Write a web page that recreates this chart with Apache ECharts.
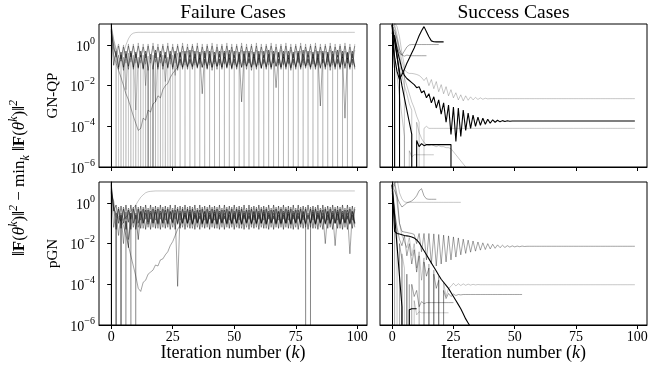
<!DOCTYPE html>
<html>
<head>
<meta charset="utf-8">
<script src="https://cdn.jsdelivr.net/npm/echarts@6/dist/echarts.min.js"></script>
<style>
  html, body { margin: 0; background: #fff; }
  #chart { width: 672px; height: 371px; }
</style>
</head>
<body>
<div id="chart"></div>
<script>
// all values are log10 of ||F||^2 - min ||F||^2, one per iteration k = 0, 1, 2 ...
// OFF = the difference hit zero: drawn as a vertical drop out of the axes
const OFF = -300;

// ---- failure cases, GN-QP ----
const failGnqpRise = [
  1.0, 0.3, -0.2, -0.6, -0.8, -0.4, 0.0, 0.3, 0.5, 0.58,
  0.61, 0.62, 0.62, 0.62, 0.62, 0.62, 0.62, 0.62, 0.62, 0.62,
  0.62, 0.62, 0.62, 0.62, 0.62, 0.62, 0.62, 0.62, 0.62, 0.62,
  0.62, 0.62, 0.62, 0.62, 0.62, 0.62, 0.62, 0.62, 0.62, 0.62,
  0.62, 0.62, 0.62, 0.62, 0.62, 0.62, 0.62, 0.62, 0.62, 0.62,
  0.62, 0.62, 0.62, 0.62, 0.62, 0.62, 0.62, 0.62, 0.62, 0.62,
  0.62, 0.62, 0.62, 0.62, 0.62, 0.62, 0.62, 0.62, 0.62, 0.62,
  0.62, 0.62, 0.62, 0.62, 0.62, 0.62, 0.62, 0.62, 0.62, 0.62,
  0.62, 0.62, 0.62, 0.62, 0.62, 0.62, 0.62, 0.62, 0.62, 0.62,
  0.62, 0.62, 0.62, 0.62, 0.62, 0.62, 0.62, 0.62, 0.62, 0.62
];
const failGnqpDip = [
  1.0, -0.5, -0.9, -1.25, -1.6, -2.0, -2.4, -2.7, -3.1, -3.5,
  -3.85, -4.2, -4.1, -3.6, -3.7, -3.2, -3.3, -2.9, -2.8, -2.5,
  -2.6, -2.2, -2.0, -1.9, -1.6, -1.4, -1.25, -1.1, -0.7, -1.1,
  -0.65, -1.05, -0.7, -1.1, -0.6, -1.05, -0.65, -1.1, -0.7, -1.05,
  -0.6, -1.1, -0.65, -1.05, -0.7, -1.1, -0.6, -1.05, -0.65, -1.1,
  -0.7, -1.05, -0.6, -1.1, -0.65, -1.05, -0.7, -1.1, -0.6, -1.05,
  -0.65, -1.1, -0.7, -1.05, -0.6, -1.1, -0.65, -1.05, -0.7, -1.1,
  -0.6, -1.05, -0.65, -1.1, -0.7, -1.05, -0.6, -1.1, -0.65, -1.05,
  -0.7, -1.1, -0.6, -1.05, -0.65, -1.1, -0.7, -1.05, -0.6, -1.1,
  -0.65, -1.05, -0.7, -1.1, -0.6, -1.05, -0.65, -1.1, -0.7, -1.05
];
const failGnqpOscA = [
  0.9, 0.2, -0.3, 0.05, -0.8, 0.0, -0.9, 0.05, -0.85, 0.05,
  -0.9, 0.1, -0.9, 0.05, -0.95, 0.05, -0.9, 0.1, -0.85, 0.05,
  -0.9, 0.05, -0.9, 0.1, -0.95, 0.05, -0.9, 0.05, -0.9, 0.1,
  -0.85, 0.05, -0.9, 0.05, -0.9, 0.1, -0.95, 0.05, -0.9, 0.05,
  -0.9, 0.1, -0.85, 0.05, -0.9, 0.05, -0.95, 0.1, -0.9, 0.05,
  -0.9, 0.05, -0.85, 0.1, -0.9, 0.05, -0.9, 0.05, -0.95, 0.1,
  -0.9, 0.05, -0.9, 0.05, -0.85, 0.1, -0.9, 0.05, -0.9, 0.05,
  -0.95, 0.1, -0.9, 0.05, -0.9, 0.05, -0.85, 0.1, -0.9, 0.05,
  -0.9, 0.05, -0.95, 0.1, -0.9, 0.05, -0.9, 0.05, -0.85, 0.1,
  -0.9, 0.05, -0.9, 0.05, -0.95, 0.1, -0.9, 0.05, -0.9, 0.05
];
const failGnqpOscB = [
  0.8, -1.0, -0.3, -1.1, -0.35, -1.1, -0.3, -1.05, -0.3, -1.1,
  -0.35, -1.1, -0.3, -1.15, -0.3, -1.1, OFF, -1.1, -0.25, -1.1,
  -0.3, -1.05, -0.35, -1.1, -0.3, -1.1, -0.3, -1.15, -0.35, -1.1,
  -0.3, -1.1, -0.25, -1.05, -0.3, -1.1, -0.35, -1.1, -0.3, -1.15,
  -0.3, -1.1, -0.35, -1.05, -0.3, -1.1, -0.3, -1.1, -0.25, -1.15,
  -0.3, -1.1, -0.35, -1.1, -0.3, -1.05, -0.3, -1.1, -0.35, -1.1,
  -0.3, -1.15, -0.3, -1.1, -0.25, -1.1, -0.3, -1.05, -0.35, -1.1,
  -0.3, -1.1, -0.3, -1.15, -0.35, -1.1, -0.3, -1.1, -0.25, -1.05,
  -0.3, -1.1, -0.35, -1.1, -0.3, -1.15, -0.3, -1.1, -0.35, -1.05,
  -0.3, -1.1, -0.25, -1.1, -0.3, -1.15, -0.35, -1.1, -0.3, -1.1
];
const failGnqpOscC = [
  0.6, 0.0, -0.6, -0.05, -0.7, -0.1, -0.65, -0.05, -0.6, -0.05,
  -0.65, -0.05, -0.6, -0.1, -0.65, -0.05, -0.7, -0.05, -0.65, -0.1,
  -0.6, -0.05, -0.65, -0.05, -0.7, -0.1, -0.65, -0.05, -0.6, -0.05,
  -0.65, -0.1, -0.6, -0.05, -0.65, -0.05, -0.7, -0.1, -0.65, -0.05,
  -0.6, -0.05, -0.65, -0.1, -0.6, -0.05, -0.65, -0.05, -0.7, -0.1,
  -0.65, -0.05, -0.6, -0.05, -0.65, -0.1, -0.6, -0.05, -0.65, -0.05,
  -0.7, -0.1, -0.65, -0.05, -0.6, -0.05, -0.65, -0.1, -0.6, -0.05,
  -0.65, -0.05, -0.7, -0.1, -0.65, -0.05, -0.6, -0.05, -0.65, -0.1,
  -0.6, -0.05, -0.65, -0.05, -0.7, -0.1, -0.65, -0.05, -0.6, -0.05,
  -0.65, -0.1, -0.6, -0.05, -0.65, -0.05, -0.7, -0.1, -0.65, -0.05
];
const failGnqpOscD = [
  0.7, -0.2, -0.45, -1.2, -0.5, -1.25, -0.45, -1.2, -0.4, -1.2,
  -0.45, -1.15, -0.5, -1.2, -0.45, -1.25, -0.45, -1.2, -0.4, -1.2,
  -0.45, -1.2, -0.5, -1.15, -0.45, -1.2, -0.45, -1.25, -0.4, -1.2,
  -0.45, -1.2, -0.5, -1.2, -0.45, -1.15, -0.45, -2.4, -0.4, -1.2,
  -0.45, -1.25, -0.5, -1.2, -0.45, -1.2, -0.4, -1.15, -0.45, -1.2,
  -0.5, -1.2, -0.45, -2.8, -0.45, -1.2, -0.4, -1.25, -0.45, -1.2,
  -0.45, -1.15, -0.5, -1.2, -0.45, -1.2, -0.45, -2.1, -0.4, -1.2,
  -0.45, -1.2, -0.5, -1.25, -0.45, -1.2, -0.4, -1.2, -0.45, -1.15,
  -0.5, -1.2, -0.45, -1.2, -0.45, -3.0, -0.4, -1.2, -0.45, -1.25,
  -0.45, -1.2, -0.5, -1.2, -0.45, -3.6, -0.4, -1.2, -0.45, -1.2
];
const failGnqpDropA = [
  0.9, 0.0, -0.7, OFF, -0.75, OFF, -0.7, OFF, -0.65, OFF,
  -0.7, OFF, -0.75, OFF, -0.7, OFF, -0.65, OFF, -0.7, OFF,
  -0.7, OFF, -0.75, OFF, -0.7, OFF, -0.65, OFF, -0.7, OFF,
  -0.7, OFF, -0.75, OFF, -0.7, OFF, -0.65, OFF, -0.7, OFF,
  -0.7, OFF, -0.75, OFF, -0.7, OFF, -0.65, OFF, -0.7, OFF,
  -0.7, OFF, -0.75, OFF, -0.7, OFF, -0.65, OFF, -0.7, OFF,
  -0.7, OFF, -0.75, OFF, -0.7, OFF, -0.65, OFF, -0.7, OFF,
  -0.7, OFF, -0.75, OFF, -0.7, OFF, -0.65, OFF, -0.7, OFF,
  -0.7, OFF, -0.75, OFF, -0.7, OFF, -0.65, OFF, -0.7, OFF,
  -0.7, OFF, -0.75, OFF, -0.7, OFF, -0.65, OFF, -0.7, OFF
];
const failGnqpDropB = [
  1.0, OFF, -0.9, -0.5, OFF, -0.6, -2.2, -0.4, OFF, -0.5,
  -3.2, -0.6, OFF, -0.5, -2.0, -0.55, OFF, -0.5, -2.8, -0.6,
  OFF, -0.5, -1.8, -0.6, OFF, -0.5, -1.5, -0.4, -1.0, -0.3,
  -1.0, -0.3, -0.95, -0.25, -1.0, -0.3, -0.9, -0.3, -1.0, -0.25,
  -1.0, -0.3, -0.95, -0.25, -1.0, -0.3, -0.9, -0.3, -1.0, -0.25,
  -1.0, -0.3, -0.95, -0.25, -1.0, -0.3, -0.9, -0.3, -1.0, -0.25,
  -1.0, -0.3, -0.95, -0.25, -1.0, -0.3, -0.9, -0.3, -1.0, -0.25,
  -1.0, -0.3, -0.95, -0.25, -1.0, -0.3, -0.9, -0.3, -1.0, -0.25,
  -1.0, -0.3, -0.95, -0.25, -1.0, -0.3, -0.9, -0.3, -1.0, -0.25,
  -1.0, -0.3, -0.95, -0.25, -1.0, -0.3, -0.9, -0.3, -1.0, -0.25
];

// ---- failure cases, pGN ----
const failPgnRise = [
  0.8, -0.3, -0.6, -0.8, -0.9, -0.8, -0.7, -0.55, -0.4, -0.25,
  -0.1, 0.1, 0.28, 0.4, 0.5, 0.55, 0.57, 0.58, 0.59, 0.59,
  0.59, 0.59, 0.59, 0.59, 0.59, 0.59, 0.59, 0.59, 0.59, 0.59,
  0.59, 0.59, 0.59, 0.59, 0.59, 0.59, 0.59, 0.59, 0.59, 0.59,
  0.59, 0.59, 0.59, 0.59, 0.59, 0.59, 0.59, 0.59, 0.59, 0.59,
  0.59, 0.59, 0.59, 0.59, 0.59, 0.59, 0.59, 0.59, 0.59, 0.59,
  0.59, 0.59, 0.59, 0.59, 0.59, 0.59, 0.59, 0.59, 0.59, 0.59,
  0.59, 0.59, 0.59, 0.59, 0.59, 0.59, 0.59, 0.59, 0.59, 0.59,
  0.59, 0.59, 0.59, 0.59, 0.59, 0.59, 0.59, 0.59, 0.59, 0.59,
  0.59, 0.59, 0.59, 0.59, 0.59, 0.59, 0.59, 0.59, 0.59, 0.59
];
const failPgnDip = [
  1.0, -0.3, -0.5, -0.7, -0.9, -1.1, -1.6, -2.1, -2.6, -3.1,
  -3.6, -4.2, -4.35, -3.9, -3.8, -3.5, -3.4, -3.3, -3.05, -3.1,
  -2.8, -2.75, -2.55, -2.4, -2.1, -1.9, -1.6, -1.3, -1.1, -0.8,
  -0.6, -1.0, -0.55, -1.05, -0.6, -1.0, -0.65, -1.0, -0.6, -1.05,
  -0.6, -1.0, -0.55, -1.05, -0.6, -1.0, -0.65, -1.0, -0.6, -1.05,
  -0.6, -1.0, -0.55, -1.05, -0.6, -1.0, -0.65, -1.0, -0.6, -1.05,
  -0.6, -1.0, -0.55, -1.05, -0.6, -1.0, -0.65, -1.0, -0.6, -1.05,
  -0.6, -1.0, -0.55, -1.05, -0.6, -1.0, -0.65, -1.0, -0.6, -1.05,
  -0.6, -1.0, -0.55, -1.05, -0.6, -1.0, -0.65, -1.0, -0.6, -1.05,
  -0.6, -1.0, -0.55, -1.05, -0.6, -1.0, -0.65, -1.0, -0.6, -1.05
];
const failPgnOscA = [
  0.9, -0.4, -0.1, -1.0, -0.15, -1.0, -0.1, -0.95, -0.1, -1.0,
  -0.1, -1.0, -0.15, -1.0, -0.1, -0.95, -0.1, -1.0, -0.15, -1.0,
  -0.1, -1.0, -0.15, -1.0, -0.1, -0.95, -0.1, -1.0, -0.15, -1.0,
  -0.1, -1.0, -0.15, -1.0, -0.1, -0.95, -0.1, -1.0, -0.15, -1.0,
  -0.1, -1.0, -0.15, -1.0, -0.1, -0.95, -0.1, -1.0, -0.15, -1.0,
  -0.1, -1.0, -0.15, -1.0, -0.1, -0.95, -0.1, -1.0, -0.15, -1.0,
  -0.1, -1.0, -0.15, -1.0, -0.1, -0.95, -0.1, -1.0, -0.15, -1.0,
  -0.1, -1.0, -0.15, -1.0, -0.1, -0.95, -0.1, -1.0, -0.15, -1.0,
  -0.1, -1.0, -0.15, -1.0, -0.1, -0.95, -0.1, -1.0, -0.15, -1.0,
  -0.1, -1.0, -0.15, -1.0, -0.1, -0.95, -0.1, -1.0, -0.15, -1.0
];
const failPgnOscB = [
  0.7, -0.2, -1.3, -0.3, -1.25, -0.3, -1.3, -0.35, -1.3, -0.3,
  -1.3, -0.3, -1.25, -0.3, -1.3, -0.35, -1.3, -0.3, -1.25, -0.3,
  -1.3, -0.3, -1.25, -0.3, -1.3, -0.35, -1.3, -0.3, -1.25, -0.3,
  -1.3, -0.3, -1.25, -0.3, -1.3, -0.35, -1.3, -0.3, -1.25, -0.3,
  -1.3, -0.3, -1.25, -0.3, -1.3, -0.35, -1.3, -0.3, -1.25, -0.3,
  -1.3, -0.3, -1.25, -0.3, -1.3, -0.35, -1.3, -0.3, -1.25, -0.3,
  -1.3, -0.3, -1.25, -0.3, -1.3, -0.35, -1.3, -0.3, -1.25, -0.3,
  -1.3, -0.3, -1.25, -0.3, -1.3, -0.35, -1.3, -0.3, -1.25, -0.3,
  -1.3, -0.3, -1.25, -0.3, -1.3, -0.35, -1.3, -0.3, -1.25, -0.3,
  -1.3, -0.3, -1.25, -0.3, -1.3, -0.35, -1.3, -0.3, -1.25, -0.3
];
const failPgnOscC = [
  0.6, -1.2, -0.5, -1.6, -0.5, -2.0, -0.45, -1.8, -0.5, -1.2,
  -0.5, -1.2, -0.45, -1.25, -0.5, -1.2, -0.5, -1.2, -0.45, -1.25,
  -0.5, -1.2, -0.5, -1.2, -0.45, -1.2, -0.5, -4.1, -0.5, -1.2,
  -0.5, -1.2, -0.45, -1.25, -0.5, -1.2, -0.5, -1.2, -0.45, -1.2,
  -0.5, -1.2, -0.45, -1.25, -0.5, -1.2, -0.5, -1.2, -0.45, -1.2,
  -0.5, -1.2, -0.45, -1.25, -0.5, -1.2, -0.5, -1.2, -0.45, -1.2,
  -0.5, -1.2, -0.45, -1.25, -0.5, -1.2, -0.5, -1.2, -0.45, -1.2,
  -0.5, -1.2, -0.45, -1.25, -0.5, -1.2, -0.5, -1.2, -0.45, -1.2,
  -0.5, -1.2, -0.45, -1.25, -0.5, -1.2, -0.5, -2.0, -0.45, -1.2,
  -0.5, -2.1, -0.45, -1.25, -0.5, -1.2, -0.5, -2.5, -0.45, -1.2
];
const failPgnOscD = [
  0.5, 0.1, -0.8, -0.2, -0.85, -0.2, -0.8, -0.25, -0.8, -0.2,
  -0.8, -0.2, -0.85, -0.2, -0.8, -0.25, -0.8, -0.2, -0.85, -0.2,
  -0.8, -0.2, -0.85, -0.2, -0.8, -0.25, -0.8, -0.2, -0.85, -0.2,
  -0.8, -0.2, -0.85, -0.2, -0.8, -0.25, -0.8, -0.2, -0.85, -0.2,
  -0.8, -0.2, -0.85, -0.2, -0.8, -0.25, -0.8, -0.2, -0.85, -0.2,
  -0.8, -0.2, -0.85, -0.2, -0.8, -0.25, -0.8, -0.2, -0.85, -0.2,
  -0.8, -0.2, -0.85, -0.2, -0.8, -0.25, -0.8, -0.2, -0.85, -0.2,
  -0.8, -0.2, -0.85, -0.2, -0.8, -0.25, -0.8, -0.2, -0.85, -0.2,
  -0.8, -0.2, -0.85, -0.2, -0.8, -0.25, -0.8, -0.2, -0.85, -0.2,
  -0.8, -0.2, -0.85, -0.2, -0.8, -0.25, -0.8, -0.2, -0.85, -0.2
];
const failPgnDrop = [
  1.0, OFF, -0.8, OFF, -0.6, OFF, -0.9, -2.2, -0.5, OFF,
  -0.6, -1.8, -0.4, -1.0, -0.35, -1.05, -0.4, -1.0, -0.35, -1.05,
  -0.4, -1.0, -0.35, -1.05, -0.4, -1.0, -0.35, -1.05, -0.4, -1.0,
  -0.4, -1.0, -0.35, -1.05, -0.4, -1.0, -0.35, -1.05, -0.4, -1.0,
  -0.4, -1.0, -0.35, -1.05, -0.4, -1.0, -0.35, -1.05, -0.4, -1.0,
  -0.4, -1.0, -0.35, -1.05, -0.4, -1.0, -0.35, -1.05, -0.4, -1.0,
  -0.4, -1.0, -0.35, -1.05, -0.4, -1.0, -0.35, -1.05, -0.4, -1.0,
  -0.4, -1.0, -0.35, -1.05, -0.4, -1.0, -0.35, -1.05, -0.4, -1.0,
  OFF, -1.0, -0.35, -1.05, -0.4, -1.0, -0.35, -1.05, -0.4, -1.0,
  -0.4, -1.0, -0.35, -1.05, -0.4, -1.0, -0.35, -1.05, -0.4, -1.0
];

// ---- success cases, GN-QP ----
const succGnqpRise = [
  1.0, -0.6, -1.3, -1.7, -1.45, -1.2, -0.9, -0.65, -0.4, -0.15,
  0.15, 0.45, 0.7, 0.9, 0.65, 0.4, 0.2, 0.16, 0.15, 0.15,
  0.15, 0.15
];
const succGnqpZig = [
  0.5, 0.45, -0.2, -0.7, -1.2, -1.5, -1.65, -1.75, -1.85, -1.95,
  -2.1, -2.05, -2.35, -2.25, -2.6, -2.4, -2.85, -2.55, -3.1, -2.7,
  -3.4, -2.85, -3.8, -2.95, -4.4, -3.05, -4.75, -3.1, -4.5, -3.2,
  -4.2, -3.35, -4.1, -3.45, -4.0, -3.55, -3.95, -3.6, -3.9, -3.65,
  -3.85, -3.68, -3.8, -3.7, -3.78, -3.72, -3.76, -3.73, -3.75, -3.74,
  -3.74, -3.74, -3.74, -3.74, -3.74, -3.74, -3.74, -3.74, -3.74, -3.74,
  -3.74, -3.74, -3.74, -3.74, -3.74, -3.74, -3.74, -3.74, -3.74, -3.74,
  -3.74, -3.74, -3.74, -3.74, -3.74, -3.74, -3.74, -3.74, -3.74, -3.74,
  -3.74, -3.74, -3.74, -3.74, -3.74, -3.74, -3.74, -3.74, -3.74, -3.74,
  -3.74, -3.74, -3.74, -3.74, -3.74, -3.74, -3.74, -3.74, -3.74, -3.74
];
const succGnqpStep = [
  1.0, 0.2, -0.6, -1.3, -2.0, -2.6, -3.2, -3.8, -4.4, OFF,
  -4.7, -5.0, -4.85, -4.95, -4.9, -4.9, -4.9, -4.9, -4.9, -4.9,
  -4.9, -4.9, -4.9, -4.9, -4.9, OFF
];
const succGnqpFallA = [1.0, -1.2, OFF];
const succGnqpFallB = [0.6, 0.3, -0.5, -1.5, OFF];
const succGnqpSlow = [
  0.9, 1.0, 0.5, -0.2, -0.8, -1.2, -1.35, -1.4, -1.4, -1.42,
  -1.45, -1.5, -1.6, -1.75, -1.6, -2.0, -1.7, -2.15, -1.8, -2.3,
  -1.95, -2.4, -2.05, -2.5, -2.2, -2.6, -2.35, -2.7, -2.45, -2.75,
  -2.5, -2.72, -2.55, -2.7, -2.58, -2.68, -2.6, -2.67, -2.62, -2.65,
  -2.64, -2.64, -2.64, -2.64, -2.64, -2.64, -2.64, -2.64, -2.64, -2.64,
  -2.64, -2.64, -2.64, -2.64, -2.64, -2.64, -2.64, -2.64, -2.64, -2.64,
  -2.64, -2.64, -2.64, -2.64, -2.64, -2.64, -2.64, -2.64, -2.64, -2.64,
  -2.64, -2.64, -2.64, -2.64, -2.64, -2.64, -2.64, -2.64, -2.64, -2.64,
  -2.64, -2.64, -2.64, -2.64, -2.64, -2.64, -2.64, -2.64, -2.64, -2.64,
  -2.64, -2.64, -2.64, -2.64, -2.64, -2.64, -2.64, -2.64, -2.64, -2.64
];
const succGnqpLow = [
  0.8, 0.9, 0.2, -0.5, -1.1, -1.6, -2.0, -2.4, -2.8, -3.1,
  -3.5, -3.8, OFF, -4.1, -4.0, -4.1, -4.1, -4.1, -4.1, -4.1,
  -4.1, -4.1, -4.1, -4.1, -4.1, -4.1, -4.1, -4.1, -4.1, -4.1,
  -4.1, -4.1, -4.1, -4.1, -4.1, -4.1, -4.1, -4.1, -4.1, -4.1,
  -4.1, -4.1, -4.1, -4.1, -4.1, -4.1, -4.1, -4.1, -4.1, -4.1,
  -4.1, -4.1, -4.1, -4.1, -4.1, -4.1, -4.1, -4.1, -4.1, -4.1,
  -4.1, -4.1, -4.1, -4.1, -4.1, -4.1, -4.1, -4.1, -4.1, -4.1,
  -4.1, -4.1, -4.1, -4.1, -4.1, -4.1, -4.1, -4.1, -4.1, -4.1,
  -4.1, -4.1, -4.1, -4.1, -4.1, -4.1, -4.1, -4.1, -4.1, -4.1,
  -4.1, -4.1, -4.1, -4.1, -4.1, -4.1, -4.1, -4.1, -4.1, -4.1
];
const succGnqpOne = [
  0.9, 0.7, 0.3, -0.2, -0.5, -0.3, -0.1, 0.0, 0.02, 0.02,
  0.02, 0.02, 0.02, 0.02, 0.02, 0.02, 0.02, 0.02, 0.02, 0.02
];
const succGnqpHalf = [
  0.6, 0.3, -0.1, -0.4, -0.5, -0.55, -0.5, -0.52, -0.53, -0.53,
  -0.53, -0.53, -0.53, -0.53, -0.53
];
const succGnqpFloor = [
  0.7, -0.6, -1.5, -2.5, -3.5, -4.5, OFF, -5.2, -5.5, -5.4,
  -5.4, -5.4, -5.4, -5.4, -5.4, -5.4, -5.4, -5.4
];
const succGnqpSink = [
  0.5, 0.6, -0.2, -0.9, -1.5, -2.0, -2.4, -2.9, -3.2, OFF,
  -3.8, -4.3, -4.6, -4.8, -4.9, -4.95, -4.9, -4.95, -5.0, -4.95,
  -5.0, -5.0, -5.05, -5.05, -5.1, -5.25, -5.4, -5.55, -5.7, -5.85,
  -6.0, -6.15
];
const succGnqpTop = [0.6, 1.1, 0.9, 0.4, -0.4, -1.0, OFF];

// ---- success cases, pGN ----
const succPgnSlope = [
  0.9, -1.4, -1.5, -1.53, -1.56, -1.6, -1.62, -1.64, -1.67, -1.72,
  -1.82, -1.95, -2.15, -2.35, -2.55, -2.75, -2.95, -3.15, -3.35, -3.55,
  -3.75, -3.9, -4.05, -4.2, -4.4, -4.6, -4.8, -5.0, -5.2, -5.45,
  -5.7, -5.9, -6.1
];
const succPgnFall = [0.9, -0.6, -2.1, -3.6, -5.1, OFF, OFF, -5.25, -5.2, -5.2, -5.2];
const succPgnDamp = [
  0.8, 1.0, 0.4, -1.0, -1.4, -1.43, -1.45, -1.48, -1.5, -1.55,
  -2.0, -1.5, -2.4, -1.5, -2.8, -1.5, -3.0, -1.52, -3.1, -1.55,
  -3.0, -1.58, -2.9, -1.62, -2.8, -1.67, -2.66, -1.72, -2.55, -1.78,
  -2.48, -1.83, -2.42, -1.87, -2.37, -1.92, -2.32, -1.96, -2.29, -2.0,
  -2.26, -2.03, -2.23, -2.06, -2.2, -2.08, -2.19, -2.1, -2.17, -2.11,
  -2.16, -2.12, -2.15, -2.12, -2.14, -2.13, -2.13, -2.13, -2.13, -2.13,
  -2.13, -2.13, -2.13, -2.13, -2.13, -2.13, -2.13, -2.13, -2.13, -2.13,
  -2.13, -2.13, -2.13, -2.13, -2.13, -2.13, -2.13, -2.13, -2.13, -2.13,
  -2.13, -2.13, -2.13, -2.13, -2.13, -2.13, -2.13, -2.13, -2.13, -2.13,
  -2.13, -2.13, -2.13, -2.13, -2.13, -2.13, -2.13, -2.13, -2.13, -2.13
];
const succPgnLevel = [
  0.7, 0.9, 0.0, -1.0, -1.6, -1.9, -2.2, -1.7, -2.6, -2.0,
  -3.2, -2.4, -3.8, -2.7, OFF, -3.0, OFF, -3.3, OFF, -3.6,
  OFF, -3.9, -4.6, -4.2, -4.1, -3.95, -4.08, -3.97, -4.06, -3.98,
  -4.05, -3.99, -4.04, -4.0, -4.03, -4.01, -4.02, -4.02, -4.02, -4.02,
  -4.02, -4.02, -4.02, -4.02, -4.02, -4.02, -4.02, -4.02, -4.02, -4.02,
  -4.02, -4.02, -4.02, -4.02, -4.02, -4.02, -4.02, -4.02, -4.02, -4.02,
  -4.02, -4.02, -4.02, -4.02, -4.02, -4.02, -4.02, -4.02, -4.02, -4.02,
  -4.02, -4.02, -4.02, -4.02, -4.02, -4.02, -4.02, -4.02, -4.02, -4.02,
  -4.02, -4.02, -4.02, -4.02, -4.02, -4.02, -4.02, -4.02, -4.02, -4.02,
  -4.02, -4.02, -4.02, -4.02, -4.02, -4.02, -4.02, -4.02, -4.02, -4.02
];
const succPgnMid = [
  0.6, -0.5, -1.2, -1.8, -2.1, -1.6, -2.6, -2.0, -3.0, -2.3,
  -3.4, -2.6, OFF, -2.9, -3.6, -3.2, OFF, -3.5, -4.2, -3.8,
  OFF, -4.3, -4.7, -4.45, -4.6, -4.48, -4.55, -4.5, -4.52, -4.5,
  -4.5, -4.5, -4.5, -4.5, -4.5, -4.5, -4.5, -4.5, -4.5, -4.5,
  -4.5, -4.5, -4.5, -4.5, -4.5, -4.5, -4.5, -4.5, -4.5, -4.5,
  -4.5, -4.5, -4.5, -4.5
];
const succPgnShelf = [
  0.5, -0.4, OFF, -2.0, -2.8, OFF, -3.5, OFF, -4.0, -4.6,
  -4.3, -5.1, -4.85, -4.95, -4.9, -4.9, -4.9, -4.9, -4.9, -4.9,
  -4.9, -4.9, -4.9, -4.9, -4.9, -4.9
];
const succPgnFloor = [
  0.9, -0.2, -1.5, OFF, -2.5, -3.2, OFF, -4.0, OFF, -4.8,
  -5.5, -5.35, -5.4, -5.4, -5.4, -5.4, -5.4, -5.4, -5.4, -5.4,
  -5.4, -5.4, -5.4, -5.4
];
const succPgnBump = [
  0.8, 0.6, 0.3, 0.0, -0.2, -0.1, 0.0, 0.05, 0.1, 0.2,
  0.35, 0.6, 0.7, 0.35, 0.2, 0.18, 0.18, 0.18, 0.18
];
const succPgnFlat = [
  0.6, 0.9, 1.2, 0.5, 0.2, 0.05, 0.03, 0.03, 0.03, 0.03,
  0.03, 0.03, 0.03, 0.03, 0.03, 0.03, 0.03, 0.03, 0.03, 0.03,
  0.03, 0.03, 0.03, 0.03, 0.03, 0.03, 0.03, 0.03, 0.03
];

const xTicks = [0, 25, 50, 75, 100];
const yTicks = [1e-6, 1e-4, 1e-2, 1];
const colTitles = ['Failure Cases', 'Success Cases'];
const rowTitles = ['GN-QP', 'pGN'];

// line looks
const looks = {
  faint: { color: 'rgba(0,0,0,0.2)', width: 0.8 },
  light: { color: 'rgba(0,0,0,0.28)', width: 0.8 },
  mid:   { color: 'rgba(0,0,0,0.45)', width: 0.8 },
  dark:  { color: 'rgba(0,0,0,0.6)', width: 0.8 },
  black: { color: '#000', width: 1.1 }
};

// grid index: 0 top-left, 1 top-right, 2 bottom-left, 3 bottom-right
const panels = [
  [0, [[failGnqpRise, 'light'], [failGnqpDip, 'mid'], [failGnqpOscA, 'light'], [failGnqpOscB, 'dark'],
       [failGnqpOscC, 'mid'], [failGnqpOscD, 'mid'], [failGnqpDropA, 'faint'], [failGnqpDropB, 'light']]],
  [1, [[succGnqpSlow, 'light'], [succGnqpLow, 'light'], [succGnqpOne, 'mid'], [succGnqpHalf, 'mid'],
       [succGnqpFloor, 'light'], [succGnqpSink, 'light'], [succGnqpTop, 'light'],
       [succGnqpRise, 'black'], [succGnqpZig, 'black'], [succGnqpStep, 'black'],
       [succGnqpFallA, 'black'], [succGnqpFallB, 'black']]],
  [2, [[failPgnRise, 'light'], [failPgnDip, 'mid'], [failPgnOscA, 'dark'], [failPgnOscB, 'dark'],
       [failPgnOscC, 'mid'], [failPgnOscD, 'mid'], [failPgnDrop, 'dark']]],
  [3, [[succPgnDamp, 'mid'], [succPgnLevel, 'light'], [succPgnMid, 'mid'], [succPgnShelf, 'mid'],
       [succPgnFloor, 'light'], [succPgnBump, 'mid'], [succPgnFlat, 'light'],
       [succPgnSlope, 'black'], [succPgnFall, 'black']]]
];

const FONT = 'Liberation Serif';
const grids = [
  { left: 99, top: 24, width: 268, height: 143 },
  { left: 380, top: 24, width: 267, height: 143 },
  { left: 99, top: 182, width: 268, height: 143 },
  { left: 380, top: 182, width: 267, height: 143 }
];

const supRich = {
  b: { fontFamily: FONT, fontSize: 14, color: '#000', lineHeight: 18, verticalAlign: 'bottom' },
  s: { fontFamily: FONT, fontSize: 10, color: '#000', lineHeight: 18, verticalAlign: 'top' }
};

const xAxes = grids.map((g, i) => ({
  type: 'value', gridIndex: i, min: -4.95, max: 103.95,
  axisLine: { show: true, onZero: false, lineStyle: { color: '#000', width: 1 } },
  axisTick: { show: true, customValues: xTicks, length: 4, lineStyle: { color: '#000', width: 1 } },
  axisLabel: { show: i >= 2, customValues: xTicks, fontFamily: FONT, fontSize: 14, color: '#000', margin: 5 },
  splitLine: { show: false }
}));

const yAxes = grids.map((g, i) => ({
  type: 'log', gridIndex: i, min: 1e-6, max: 10.7,
  axisLine: { show: true, lineStyle: { color: '#000', width: 1 } },
  axisTick: { show: true, customValues: yTicks, length: 4, lineStyle: { color: '#000', width: 1 } },
  axisLabel: {
    show: i % 2 === 0, customValues: yTicks, margin: 4,
    formatter: v => {
      const e = Math.round(Math.log10(v));
      return '{b|10}{s|' + (e < 0 ? '\u2212' : '') + Math.abs(e) + '}';
    },
    rich: supRich
  },
  splitLine: { show: false },
  minorTick: { show: false }
}));

const series = [];
panels.forEach(([g, lines]) => {
  lines.forEach(([vals, look]) => {
    series.push({
      type: 'line', xAxisIndex: g, yAxisIndex: g,
      data: vals.map((v, k) => [k, Math.pow(10, v)]),
      symbol: 'none', silent: true, clip: true,
      z: look === 'black' ? 5 : 2,
      lineStyle: { color: looks[look].color, width: looks[look].width },
      emphasis: { disabled: true }
    });
  });
});

const mathRich = {
  n: { fontFamily: FONT, fontSize: 17, fill: '#000', lineHeight: 24, verticalAlign: 'middle' },
  b: { fontFamily: FONT, fontSize: 17, fontWeight: 'bold', fill: '#000', lineHeight: 24, verticalAlign: 'middle' },
  it: { fontFamily: FONT, fontSize: 17, fontStyle: 'italic', fill: '#000', lineHeight: 24, verticalAlign: 'middle' },
  sup: { fontFamily: FONT, fontSize: 12, fontStyle: 'italic', fill: '#000', lineHeight: 24, verticalAlign: 'top' },
  sub: { fontFamily: FONT, fontSize: 12, fontStyle: 'italic', fill: '#000', lineHeight: 24, verticalAlign: 'bottom' }
};

const graphic = [];
colTitles.forEach((t, c) => {
  const g = grids[c];
  graphic.push({
    type: 'text', x: g.left + g.width / 2, y: 13, silent: true,
    style: { text: t, fontFamily: FONT, fontSize: 19.5, fill: '#000', align: 'center', verticalAlign: 'middle' }
  });
  const gb = grids[c + 2];
  graphic.push({
    type: 'text', x: gb.left + gb.width / 2, y: 353, silent: true,
    style: {
      text: '{n|Iteration number (}{it|k}{n|)}', align: 'center', verticalAlign: 'middle',
      rich: {
        n: { fontFamily: FONT, fontSize: 18, fill: '#000' },
        it: { fontFamily: FONT, fontSize: 18, fontStyle: 'italic', fill: '#000' }
      }
    }
  });
});
rowTitles.forEach((t, r) => {
  const g = grids[r * 2];
  graphic.push({
    type: 'text', x: 53, y: g.top + g.height / 2, rotation: Math.PI / 2, silent: true,
    style: { text: t, fontFamily: FONT, fontSize: 15, fill: '#000', align: 'center', verticalAlign: 'middle' }
  });
});
graphic.push({
  type: 'text', x: 20, y: 178, rotation: Math.PI / 2, silent: true,
  style: {
    text: '{n|\u2016}{b|F}{n|(}{it|\u03b8}{sup|k}{n|)\u2016}{sup|2}{n| \u2212 min}{sub|k}{n| \u2016}{b|F}{n|(}{it|\u03b8}{sup|k}{n|)\u2016}{sup|2}',
    align: 'center', verticalAlign: 'middle', rich: mathRich
  }
});

const chart = echarts.init(document.getElementById('chart'), null, { renderer: 'canvas' });
chart.setOption({
  animation: false,
  backgroundColor: '#fff',
  grid: grids.map(g => Object.assign({ show: true, borderColor: '#000', borderWidth: 1, backgroundColor: 'transparent' }, g)),
  xAxis: xAxes,
  yAxis: yAxes,
  series: series,
  graphic: graphic
});
</script>
</body>
</html>
